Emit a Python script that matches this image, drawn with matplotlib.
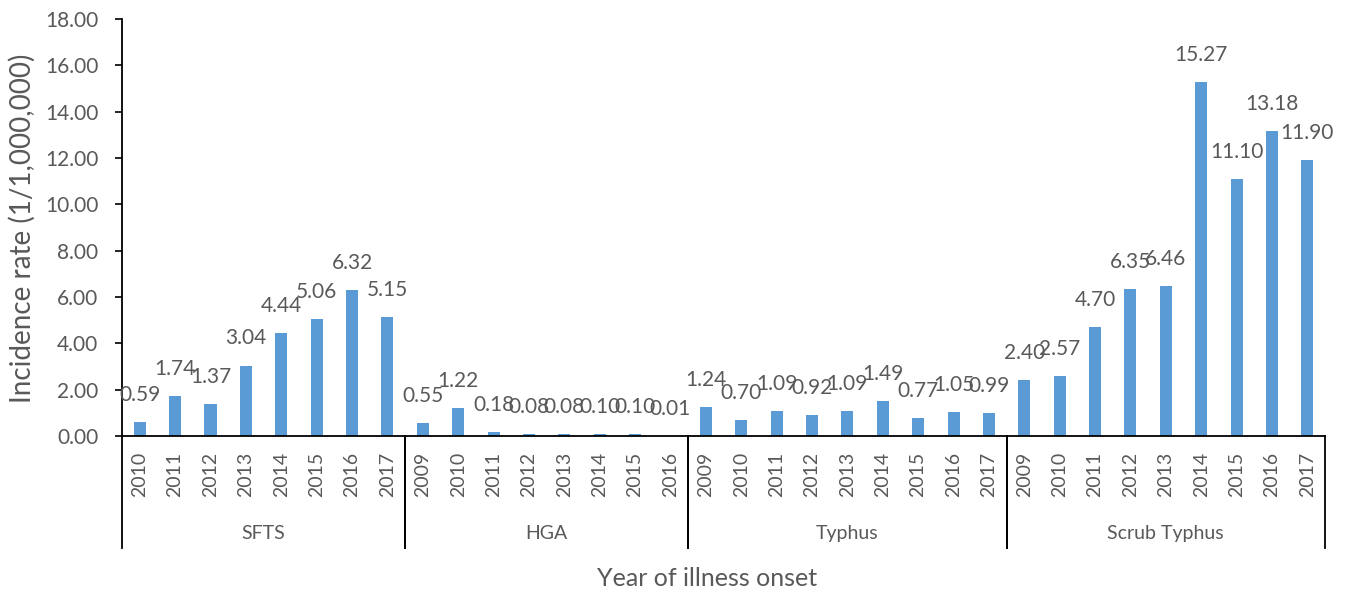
import matplotlib.pyplot as plt
import matplotlib.transforms as mtransforms
import numpy as np

plt.rcParams["font.family"] = ["Lato", "DejaVu Sans"]

# data
diseases = ["SFTS", "HGA", "Typhus", "Scrub Typhus"]
sfts_years = [2010, 2011, 2012, 2013, 2014, 2015, 2016, 2017]
sfts_rate = [0.59, 1.74, 1.37, 3.04, 4.44, 5.06, 6.32, 5.15]
hga_years = [2009, 2010, 2011, 2012, 2013, 2014, 2015, 2016]
hga_rate = [0.55, 1.22, 0.18, 0.08, 0.08, 0.10, 0.10, 0.01]
typhus_years = [2009, 2010, 2011, 2012, 2013, 2014, 2015, 2016, 2017]
typhus_rate = [1.24, 0.70, 1.09, 0.92, 1.09, 1.49, 0.77, 1.05, 0.99]
scrub_years = [2009, 2010, 2011, 2012, 2013, 2014, 2015, 2016, 2017]
scrub_rate = [2.40, 2.57, 4.70, 6.35, 6.46, 15.27, 11.10, 13.18, 11.90]

groups = [
    (sfts_years, sfts_rate),
    (hga_years, hga_rate),
    (typhus_years, typhus_rate),
    (scrub_years, scrub_rate),
]

BAR = "#5B9BD5"
GREY = "#595959"

years = [y for g in groups for y in g[0]]
rates = [r for g in groups for r in g[1]]
x = np.arange(len(rates))

fig = plt.figure(figsize=(13.5, 5.92), dpi=100)
ax = fig.add_axes([0.0904, 0.2635, 0.8911, 0.7044])

ax.bar(x, rates, width=0.34, color=BAR, zorder=2)
for xi, r in zip(x, rates):
    ax.annotate(f"{r:.2f}", (xi, r), xytext=(0, 19.5), textcoords="offset points",
                ha="center", va="center", fontsize=15, color=GREY)

ax.set_xlim(-0.5, len(rates) - 0.5)
ax.set_ylim(0, 18)
ax.set_yticks(np.arange(0, 18.1, 2))
ax.set_yticklabels([f"{v:.2f}" for v in np.arange(0, 18.1, 2)])
ax.set_xticks(x)
ax.set_xticklabels([str(y) for y in years], rotation=90)
ax.tick_params(axis="x", length=0, pad=11.5, labelsize=14, labelcolor=GREY)
ax.tick_params(axis="y", length=5, width=1.2, direction="out", pad=12,
               labelsize=15, labelcolor=GREY)

for s in ["top", "right"]:
    ax.spines[s].set_visible(False)
ax.spines["left"].set_linewidth(1.3)
ax.spines["bottom"].set_linewidth(1.3)

# group separators and group labels below the axis
trans = mtransforms.blended_transform_factory(ax.transData, ax.transAxes)
start = -0.5
for name, (yrs, _) in zip(diseases, groups):
    end = start + len(yrs)
    for xb in (start, end):
        ax.plot([xb, xb], [0, -0.2686], transform=trans, color="black",
                lw=1.3, clip_on=False)
    ax.text((start + end) / 2, -0.2326, name, transform=trans, ha="center",
            va="center", fontsize=14, color=GREY)
    start = end

fig.text(707 / 1350, 1 - 578 / 592, "Year of illness onset", ha="center",
         va="center", fontsize=18, color=GREY)
fig.text(22 / 1350, 1 - 228 / 592, "Incidence rate (1/1,000,000)", ha="center",
         va="center", rotation=90, fontsize=20, color=GREY)

fig.savefig("out.png", dpi=100)
